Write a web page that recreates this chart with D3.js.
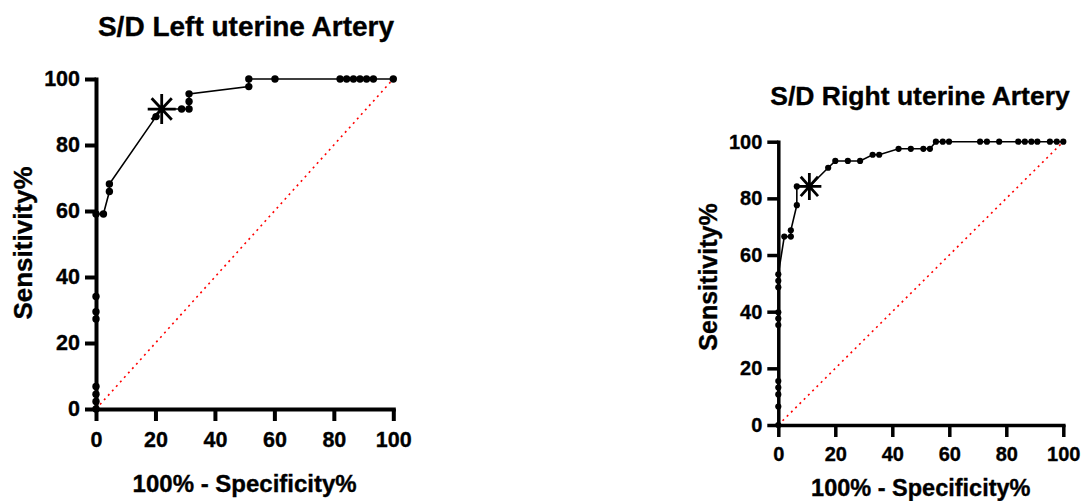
<!DOCTYPE html>
<html>
<head>
<meta charset="utf-8">
<script src="https://cdn.jsdelivr.net/npm/d3@7"></script>
<style>
body { margin: 0; background: #fff; }
svg text { font-family: "Liberation Sans", Arial, sans-serif; font-weight: bold; fill: #000; stroke: #000; stroke-width: 0.35px; }
.axis path, .axis line { stroke: #000; }
</style>
</head>
<body>
<svg width="1083" height="501"></svg>
<script>

// ROC points: x = 100% - specificity, y = sensitivity
var leftFpr  = [0, 0, 0, 0, 0, 0, 0, 0, 2.5, 4.5, 4.5, 20.2, 22.1, 28.8, 31.3, 31.3, 31.3, 51.4, 51.4, 60.2, 82.1, 84.3, 86.6, 88.8, 91.0, 93.3, 100];
var leftSens = [0, 2.3, 4.5, 6.8, 27.3, 29.5, 34.1, 59.1, 59.1, 65.9, 68.2, 88.6, 90.9, 90.9, 90.9, 93.2, 95.5, 97.7, 100, 100, 100, 100, 100, 100, 100, 100, 100];
var leftCut = [22.1, 90.9];

var rightFpr  = [0, 0, 0, 0, 0, 0, 0, 0, 0, 0, 0, 2.1, 4.4, 4.4, 6.5, 6.5, 10.9, 17.5, 20.0, 24.4, 28.7, 33.1, 35.4, 42.2, 46.5, 50.9, 53.2, 55.3, 57.7, 59.9, 70.8, 73.2, 77.5, 84.2, 86.5, 88.8, 90.9, 95.3, 97.7, 100];
var rightSens = [0, 6.5, 10.8, 13.2, 15.5, 35.3, 37.6, 39.8, 48.6, 50.9, 53.2, 66.5, 66.5, 68.7, 77.6, 84.2, 84.2, 90.8, 93.2, 93.2, 93.2, 95.4, 95.4, 97.5, 97.5, 97.5, 97.5, 100, 100, 100, 100, 100, 100, 100, 100, 100, 100, 100, 100, 100];
var rightCut = [10.9, 84.2];

var tickValues = [0, 20, 40, 60, 80, 100];

var svg = d3.select('svg');

function drawRoc(opt){
    var g = svg.append("g");

    var scaleX = d3.scaleLinear().domain([0, 100]).range([opt.x0, opt.x1]);
    var scaleY = d3.scaleLinear().domain([0, 100]).range([opt.y0, opt.y1]);

    var pts = opt.fpr.map(function(d, i){ return {x: d, y: opt.sens[i]}; });

    // chance line
    g.append("line")
        .attr("x1", scaleX(0)).attr("y1", scaleY(0))
        .attr("x2", scaleX(100)).attr("y2", scaleY(100))
        .attr("stroke", "#ff0000")
        .attr("stroke-width", 1.6)
        .attr("stroke-dasharray", "2,4");

    var xAxis = g.append("g")
        .attr("class", "axis")
        .attr("transform", "translate(0," + opt.y0 + ")")
        .call(d3.axisBottom(scaleX).tickValues(tickValues).tickSize(12).tickSizeOuter(0).tickPadding(opt.xPad));
    var yAxis = g.append("g")
        .attr("class", "axis")
        .attr("transform", "translate(" + opt.x0 + ",0)")
        .call(d3.axisLeft(scaleY).tickValues(tickValues).tickSize(11).tickSizeOuter(0).tickPadding(5));

    [xAxis, yAxis].forEach(function(a){
        a.selectAll("path, line").attr("stroke-width", opt.axisW).style("stroke-width", opt.axisW + "px");
        a.select(".domain").attr("stroke-linecap", "square");
        a.selectAll("text").style("font-size", opt.tickFont + "px");
    });

    var line = d3.line()
        .x(function(d){ return scaleX(d.x); })
        .y(function(d){ return scaleY(d.y); });

    g.append("path")
        .datum(pts)
        .attr("d", line)
        .attr("fill", "none")
        .attr("stroke", "#000")
        .attr("stroke-width", 1.6);

    g.selectAll('.dot')
        .data(pts.filter(function(d){ return !(d.x == opt.cut[0] && d.y == opt.cut[1]); }))
        .enter()
        .append('circle')
        .attr('class', 'dot')
        .attr('cx', function(d){ return scaleX(d.x); })
        .attr('cy', function(d){ return scaleY(d.y); })
        .attr('r', opt.r)
        .attr('fill', '#000');

    // cut-off star
    var cx = scaleX(opt.cut[0]), cy = scaleY(opt.cut[1]);
    var w = opt.star[0], h = opt.star[1];
    g.append("path")
        .attr("d", "M" + cx + "," + (cy - h) + "V" + (cy + h) +
                   "M" + (cx - w) + "," + cy + "H" + (cx + w) +
                   "M" + (cx - w * 0.72) + "," + (cy - h * 0.72) + "L" + (cx + w * 0.72) + "," + (cy + h * 0.72) +
                   "M" + (cx - w * 0.72) + "," + (cy + h * 0.72) + "L" + (cx + w * 0.72) + "," + (cy - h * 0.72))
        .attr("stroke", "#000")
        .attr("stroke-width", 2.8)
        .attr("fill", "none");

    svg.append("text")
        .attr("x", opt.titleX).attr("y", opt.titleY)
        .attr("text-anchor", "middle")
        .style("font-size", opt.titleFont + "px")
        .text(opt.title);

    svg.append("text")
        .attr("x", (opt.x0 + opt.x1) / 2).attr("y", opt.xTitleY)
        .attr("text-anchor", "middle")
        .style("font-size", opt.xTitleFont + "px")
        .text("100% - Specificity%");

    svg.append("text")
        .attr("transform", "translate(" + opt.yTitleX + "," + opt.yTitleY + ") rotate(-90)")
        .attr("text-anchor", "middle")
        .style("font-size", opt.yTitleFont + "px")
        .text("Sensitivity%");
}

drawRoc({
    fpr: leftFpr, sens: leftSens, cut: leftCut,
    x0: 96, x1: 393.3, y0: 409, y1: 79,
    r: 3.7, star: [14, 15], axisW: 4, tickFont: 21.5, xPad: 11,
    title: "S/D Left uterine Artery", titleX: 246, titleY: 35.5, titleFont: 28,
    xTitleY: 491.5, xTitleFont: 24,
    yTitleX: 31.5, yTitleY: 243, yTitleFont: 26
});

drawRoc({
    fpr: rightFpr, sens: rightSens, cut: rightCut,
    x0: 778.3, x1: 1063.3, y0: 425, y1: 141.7,
    r: 3.1, star: [12, 13.5], axisW: 3.5, tickFont: 20, xPad: 10,
    title: "S/D Right uterine Artery", titleX: 920, titleY: 105, titleFont: 26.5,
    xTitleY: 495.5, xTitleFont: 23.5,
    yTitleX: 716.5, yTitleY: 277, yTitleFont: 25
});

</script>
</body>
</html>
